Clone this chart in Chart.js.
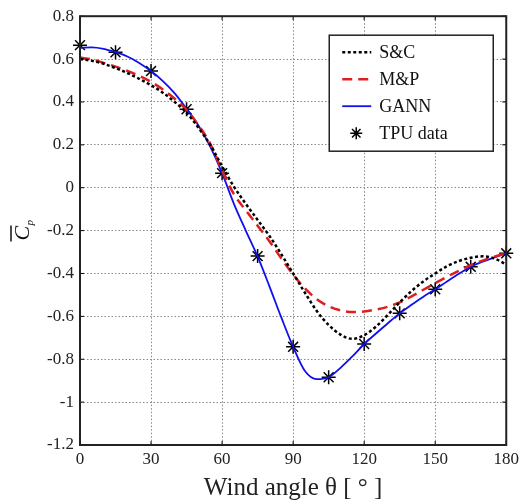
<!DOCTYPE html>
<html>
<head>
<meta charset="utf-8">
<script src="https://cdn.jsdelivr.net/npm/chart.js@4.4.1/dist/chart.umd.min.js"></script>
<style>
  html, body { margin: 0; padding: 0; background: #fff; }
  #wrap { width: 523px; height: 503px; position: relative; }
</style>
</head>
<body>
<div id="wrap"><canvas id="cp-chart"></canvas></div>
<script>
// wind angle ticks and the fitted curves (every 5 deg)
var xTicks = [0, 30, 60, 90, 120, 150, 180];
var curveAngle = [0,5,10,15,20,25,30,35,40,45,50,55,60,65,70,75,80,85,90,
                  95,100,105,110,115,120,125,130,135,140,145,150,155,160,165,170,175,180];

var scCp = [0.600,0.592,0.578,0.558,0.535,0.508,0.478,0.443,0.400,0.350,0.280,0.200,0.100,0.005,-0.075,-0.150,-0.225,-0.310,-0.400,
            -0.490,-0.575,-0.640,-0.685,-0.705,-0.688,-0.648,-0.593,-0.535,-0.482,-0.437,-0.400,-0.366,-0.342,-0.327,-0.320,-0.330,-0.358];

var mpCp = [0.607,0.598,0.582,0.565,0.545,0.522,0.494,0.458,0.415,0.362,0.292,0.205,0.080,-0.030,-0.105,-0.177,-0.250,-0.330,-0.405,
            -0.470,-0.520,-0.553,-0.572,-0.580,-0.577,-0.568,-0.555,-0.535,-0.507,-0.476,-0.445,-0.415,-0.387,-0.361,-0.340,-0.322,-0.305];

var gannCp = [0.652,0.655,0.648,0.632,0.612,0.582,0.544,0.497,0.440,0.368,0.290,0.192,0.068,-0.075,-0.200,-0.320,-0.460,-0.605,-0.742,
              -0.855,-0.893,-0.884,-0.840,-0.787,-0.729,-0.680,-0.632,-0.586,-0.546,-0.508,-0.474,-0.437,-0.401,-0.369,-0.345,-0.325,-0.306];

// TPU measurements
var tpuAngle = [0,15,30,45,60,75,90,105,120,135,150,165,180];
var tpuCp = [0.665,0.632,0.544,0.366,0.068,-0.319,-0.742,-0.884,-0.729,-0.586,-0.474,-0.369,-0.306];

function pts(xs, ys) {
  var out = [];
  for (var i = 0; i < xs.length; i++) out.push({x: xs[i], y: ys[i]});
  return out;
}

var serif = "'Liberation Serif', 'DejaVu Serif', serif";

// frame, inward ticks, legend box and the y label
var decorPlugin = {
  id: 'decor',
  afterDraw: function(chart) {
    var ctx = chart.ctx, a = chart.chartArea;
    var xs = chart.scales.x, ys = chart.scales.y;
    ctx.save();

    // inward ticks
    ctx.strokeStyle = '#000';
    ctx.lineWidth = 1;
    ctx.beginPath();
    xTicks.forEach(function(v) {
      var px = xs.getPixelForValue(v);
      ctx.moveTo(px, a.bottom); ctx.lineTo(px, a.bottom - 4);
      ctx.moveTo(px, a.top); ctx.lineTo(px, a.top + 4);
    });
    ys.ticks.forEach(function(t) {
      var py = ys.getPixelForValue(t.value);
      ctx.moveTo(a.left, py); ctx.lineTo(a.left + 4, py);
      ctx.moveTo(a.right, py); ctx.lineTo(a.right - 4, py);
    });
    ctx.stroke();

    // box
    ctx.lineWidth = 2;
    ctx.strokeStyle = '#222';
    ctx.strokeRect(a.left, a.top, a.right - a.left, a.bottom - a.top);

    // legend
    var lx = a.right - 177, ly = a.top + 19, lw = 164, lh = 116;
    ctx.fillStyle = '#fff';
    ctx.fillRect(lx, ly, lw, lh);
    ctx.lineWidth = 1.5;
    ctx.strokeStyle = '#222';
    ctx.strokeRect(lx, ly, lw, lh);
    ctx.font = '18px ' + serif;
    ctx.textBaseline = 'middle';
    ctx.textAlign = 'left';
    var rows = [17, 44, 71, 98];
    chart.data.datasets.forEach(function(ds, i) {
      var yy = ly + rows[i];
      if (ds.showLine === false) {
        var cx = lx + 27, r = 6;
        ctx.strokeStyle = '#000';
        ctx.lineWidth = 1.5;
        ctx.setLineDash([]);
        ctx.beginPath();
        ctx.moveTo(cx - r, yy); ctx.lineTo(cx + r, yy);
        ctx.moveTo(cx, yy - r); ctx.lineTo(cx, yy + r);
        var d = r * 0.7071;
        ctx.moveTo(cx - d, yy - d); ctx.lineTo(cx + d, yy + d);
        ctx.moveTo(cx - d, yy + d); ctx.lineTo(cx + d, yy - d);
        ctx.stroke();
      } else {
        ctx.strokeStyle = ds.borderColor;
        ctx.lineWidth = ds.borderWidth;
        ctx.setLineDash(ds.borderDash || []);
        ctx.beginPath();
        ctx.moveTo(lx + 13, yy); ctx.lineTo(lx + 42, yy);
        ctx.stroke();
      }
      ctx.setLineDash([]);
      ctx.fillStyle = '#111';
      ctx.fillText(ds.label, lx + 50, yy + 1);
    });

    // y label: C with overline and subscript p
    ctx.translate(22, (a.top + a.bottom) / 2 + 2);
    ctx.rotate(-Math.PI / 2);
    ctx.fillStyle = '#111';
    ctx.textBaseline = 'alphabetic';
    ctx.font = 'italic 22px ' + serif;
    ctx.fillText('C', -8, 7);
    ctx.font = 'italic 11px ' + serif;
    ctx.fillText('p', 7, 11);
    ctx.strokeStyle = '#111';
    ctx.lineWidth = 1.5;
    ctx.beginPath();
    ctx.moveTo(-9, -11); ctx.lineTo(7, -11);
    ctx.stroke();
    ctx.restore();
  }
};

new Chart(document.getElementById('cp-chart'), {
  type: 'line',
  data: {
    datasets: [{
      label: 'S&C',
      data: pts(curveAngle, scCp),
      borderColor: '#000',
      borderWidth: 2.5,
      borderDash: [3, 2.5],
      pointRadius: 0,
      cubicInterpolationMode: 'monotone',
      fill: false
    }, {
      label: 'M&P',
      data: pts(curveAngle, mpCp),
      borderColor: '#dd1f1f',
      borderWidth: 2.5,
      borderDash: [10, 6],
      pointRadius: 0,
      cubicInterpolationMode: 'monotone',
      fill: false
    }, {
      label: 'GANN',
      data: pts(curveAngle, gannCp),
      borderColor: '#1010ee',
      borderWidth: 1.8,
      pointRadius: 0,
      cubicInterpolationMode: 'monotone',
      fill: false
    }, {
      label: 'TPU data',
      data: pts(tpuAngle, tpuCp),
      showLine: false,
      clip: false,
      pointStyle: 'star',
      pointRadius: 7,
      pointBorderWidth: 1.5,
      pointBorderColor: '#000',
      pointBackgroundColor: '#000',
      borderColor: '#000'
    }]
  },
  options: {
    responsive: true,
    maintainAspectRatio: false,
    animation: false,
    events: [],
    layout: { padding: { left: 20, top: 16, right: 16, bottom: 0 } },
    plugins: {
      legend: { display: false },
      tooltip: { enabled: false }
    },
    scales: {
      x: {
        type: 'linear',
        min: 0,
        max: 180,
        afterBuildTicks: function(s) { s.ticks = xTicks.map(function(v) { return {value: v}; }); },
        afterFit: function(s) { s.height = 58; },
        grid: { color: '#888', lineWidth: 1, drawTicks: false },
        border: { display: false, dash: [1.5, 2] },
        ticks: { color: '#222', padding: 4, maxRotation: 0, font: { family: serif, size: 17 } },
        title: {
          display: true,
          text: 'Wind angle θ [ ° ]',
          color: '#222',
          padding: { top: 0, bottom: 0 },
          font: { family: serif, size: 25 }
        }
      },
      y: {
        min: -1.2,
        max: 0.8,
        afterFit: function(s) { s.width = 60; },
        grid: { color: '#888', lineWidth: 1, drawTicks: false },
        border: { display: false, dash: [1.5, 2] },
        ticks: {
          stepSize: 0.2,
          color: '#222',
          padding: 6,
          font: { family: serif, size: 17 },
          callback: function(v) { return String(Math.round(v * 10) / 10); }
        }
      }
    }
  },
  plugins: [decorPlugin]
});
</script>
</body>
</html>
